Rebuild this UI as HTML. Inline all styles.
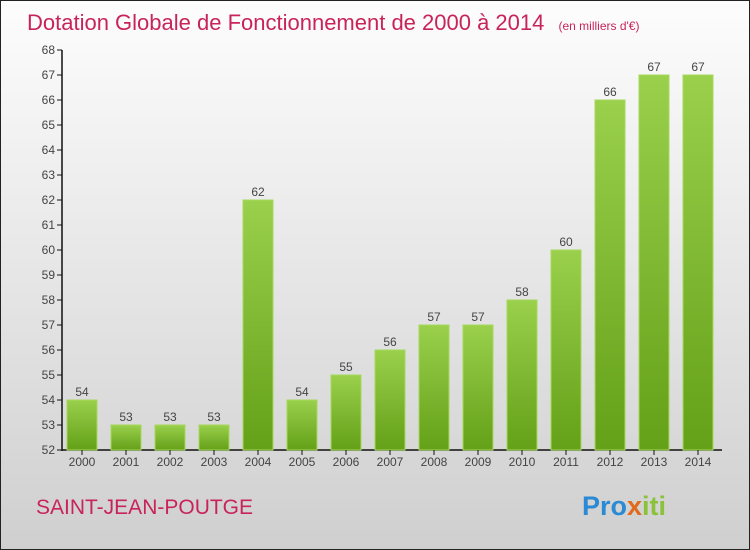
<!DOCTYPE html>
<html><head><meta charset="utf-8"><style>
body{margin:0}
svg{display:block;font-family:"Liberation Sans",sans-serif}
</style></head><body>
<svg id="c" width="750" height="550" viewBox="0 0 750 550">
<defs>
<linearGradient id="bg" x1="0" y1="0" x2="0" y2="1"><stop offset="0" stop-color="#fdfdfd"/><stop offset="1" stop-color="#cfcfcf"/></linearGradient>
<linearGradient id="bar" x1="0" y1="0" x2="0" y2="1"><stop offset="0" stop-color="#9ad04c"/><stop offset="1" stop-color="#64a018"/></linearGradient>
</defs>
<rect x="0.5" y="0.5" width="749" height="549" fill="url(#bg)" stroke="#222"/>
<text x="27" y="30" font-size="22" fill="#c8245a">Dotation Globale de Fonctionnement de 2000 à 2014 <tspan font-size="12" dx="8">(en milliers d'€)</tspan></text>
<text x="36" y="514" font-size="21" fill="#c8245a">SAINT-JEAN-POUTGE</text>
<text x="582" y="515" font-size="27" font-weight="bold" fill="#2a8ad4">Pro<tspan fill="#e06a1a">x</tspan><tspan fill="#8ac23a">iti</tspan></text>
<g id="plot"></g>
</svg>
<script>
const years=["2000","2001","2002","2003","2004","2005","2006","2007","2008","2009","2010","2011","2012","2013","2014"];
const values=[54,53,53,53,62,54,55,56,57,57,58,60,66,67,67];
const yTicks=[52,53,54,55,56,57,58,59,60,61,62,63,64,65,66,67,68];
const ns="http://www.w3.org/2000/svg";
const g=document.getElementById('plot');
const y=v=>450-(v-52)*25;
const x=i=>82+i*44;
function mk(t,a){const e=document.createElementNS(ns,t);for(const k in a)e.setAttribute(k,a[k]);g.appendChild(e);return e;}
const ax=mk('line',{x1:62,y1:50,x2:62,y2:451,stroke:'#111','stroke-width':1.5});


const bx=mk('line',{x1:62,y1:450,x2:722,y2:450,stroke:'#111','stroke-width':1.5});


yTicks.forEach(v=>{
 const tk=mk('line',{x1:57,y1:y(v),x2:62,y2:y(v),stroke:'#111'});
 
 
 const t=mk('text',{x:55,y:y(v)+4,'font-size':12,fill:'#444','text-anchor':'end'});
 t.textContent=v;
 
 
});
values.forEach((v,i)=>{
 const r=mk('rect',{x:x(i)-15,y:y(v),width:30,height:450-y(v),fill:'url(#bar)',stroke:'#a6d95c'});
 
 
 const tk=mk('line',{x1:x(i),y1:450,x2:x(i),y2:455,stroke:'#111'});
 
 
 const l=mk('text',{x:x(i),y:466,'font-size':12,fill:'#444','text-anchor':'middle'});
 l.textContent=years[i];
 
 
 const vl=mk('text',{x:x(i),y:y(v)-4,'font-size':12,fill:'#444','text-anchor':'middle'});
 vl.textContent=v;
 
 
});
</script>
</body></html>
